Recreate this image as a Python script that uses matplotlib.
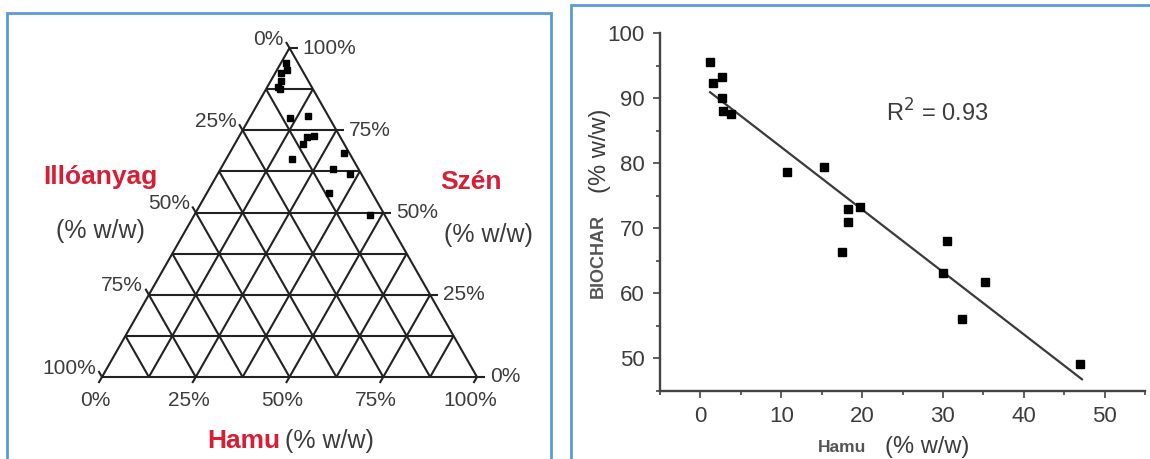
import matplotlib
matplotlib.use("Agg")
import matplotlib.pyplot as plt
from matplotlib.patches import Rectangle
from matplotlib.ticker import MultipleLocator

plt.rcParams['font.family'] = ['Liberation Sans', 'DejaVu Sans']

# ash (Hamu) and carbon (Szén / BIOCHAR) content of the samples, % w/w
hamu = [1.2, 2.7, 1.6, 2.7, 2.8, 3.8, 10.7, 15.3, 18.3, 19.8, 18.2, 17.5,
        30.5, 30.0, 35.2, 32.4, 47.0]
szen = [95.5, 93.2, 92.3, 90.0, 88.0, 87.5, 78.6, 79.4, 72.9, 73.2, 70.9, 66.3,
        68.0, 63.2, 61.8, 56.0, 49.1]

# regression line end points
fit_x = [1.2, 47.2]
fit_y = [90.9, 46.8]
r2_text = "R$^2$ = 0.93"

tern_ticks = [0, 25, 50, 75, 100]
x_ticks = [0, 10, 20, 30, 40, 50]
y_ticks = [50, 60, 70, 80, 90, 100]

RED = '#d81e34'
BLUE = '#5b9bd5'
GRID = '#222222'
TXT = '#3c3c3c'

W, H = 1150, 459
fig = plt.figure(figsize=(W / 100, H / 100), dpi=100)


def fx(x):
    return x / W


def fy(y):
    return 1 - y / H


# blue panel frames (bottom edges fall outside the picture)
fig.add_artist(Rectangle((fx(7), fy(480)), fx(551) - fx(7), fy(13) - fy(480),
                         fill=False, ec=BLUE, lw=2))
fig.add_artist(Rectangle((fx(571), fy(480)), fx(1170) - fx(571), fy(5) - fy(480),
                         fill=False, ec=BLUE, lw=2))

# ---------------- ternary diagram ----------------
tx0, tx1, ty_top, ty_bot = 102, 477, 48, 377
ax1 = fig.add_axes([fx(tx0), fy(ty_bot), (tx1 - tx0) / W, (ty_bot - ty_top) / H])
ax1.set_xlim(0, 1)
ax1.set_ylim(0, 1)
ax1.axis('off')
sx = 1 / (tx1 - tx0)   # one pixel in data units
sy = 1 / (ty_bot - ty_top)

lk = dict(color=GRID, lw=1.5, solid_capstyle='butt', clip_on=False)
for i in range(1, 8):
    f = i / 8
    ax1.plot([f / 2, 1 - f / 2], [f, f], **lk)              # constant carbon
    ax1.plot([f, f + (1 - f) / 2], [0, 1 - f], **lk)        # constant ash
    ax1.plot([1 - f, (1 - f) / 2], [0, 1 - f], **lk)        # constant volatiles
ax1.plot([0, 1, 0.5, 0], [0, 0, 1, 0], **lk)

lab = dict(fontsize=15, color=TXT, textcoords='offset pixels', annotation_clip=False)
for t in tern_ticks:
    c = 1 - t / 100
    # left side: Illóanyag
    px, py = c / 2, c
    ax1.plot([px, px - 3.5 * sx], [py, py + 6 * sy], **lk)
    ax1.annotate(f"{t}%", (px, py), xytext=(-6, 9), ha='right', va='center', **lab)
    # right side: Szén
    c = t / 100
    px, py = 1 - c / 2, c
    ax1.plot([px, px + 8 * sx], [py, py], **lk)
    ax1.annotate(f"{t}%", (px, py), xytext=(13, 0), ha='left', va='center', **lab)
    # bottom: Hamu
    px = t / 100
    ax1.plot([px, px - 3.5 * sx], [0, -6 * sy], **lk)
    ax1.annotate(f"{t}%", (px, 0), xytext=(-7, -23), ha='center', va='center', **lab)

tern_x = [h / 100 + s / 200 for h, s in zip(hamu, szen)]
tern_y = [s / 100 for s in szen]
ax1.plot(tern_x, tern_y, 's', ms=4.5, color='black', clip_on=False)

fig.text(fx(100), fy(177), "Illóanyag", color=RED, fontsize=19, fontweight='bold',
         ha='center', va='center')
fig.text(fx(100), fy(231), "(% w/w)", color=TXT, fontsize=18, ha='center', va='center')
fig.text(fx(471), fy(182), "Szén", color=RED, fontsize=19, fontweight='bold',
         ha='center', va='center')
fig.text(fx(488), fy(235), "(% w/w)", color=TXT, fontsize=18, ha='center', va='center')
fig.text(fx(280), fy(441), "Hamu", color=RED, fontsize=19, fontweight='bold',
         ha='right', va='center')
fig.text(fx(285), fy(441), "(% w/w)", color=TXT, fontsize=18, ha='left', va='center')

# ---------------- scatter with regression ----------------
ax2 = fig.add_axes([fx(660), fy(391), (1145 - 660) / W, (391 - 33) / H])
ax2.set_xlim(-5, 55)
ax2.set_ylim(45, 100)
ax2.set_xticks(x_ticks)
ax2.set_yticks(y_ticks)
ax2.xaxis.set_minor_locator(MultipleLocator(5))
ax2.yaxis.set_minor_locator(MultipleLocator(5))
for s in ('top', 'right'):
    ax2.spines[s].set_visible(False)
for s in ('left', 'bottom'):
    ax2.spines[s].set_color('#444444')
    ax2.spines[s].set_linewidth(1.7)
ax2.tick_params(which='both', direction='out', color='#444444', width=1.2)
ax2.tick_params(which='major', length=5, labelsize=16, labelcolor=TXT, pad=6)
ax2.tick_params(which='minor', length=3)

ax2.plot(fit_x, fit_y, color='#3a3a3a', lw=1.6)
ax2.plot(hamu, szen, 's', ms=6, color='black', clip_on=False)
ax2.text(23.0, 87.7, r2_text, fontsize=17, color=TXT, ha='left', va='center')

fig.text(fx(598), fy(256), "BIOCHAR", rotation=90, fontsize=13, fontweight='bold',
         color='#555555', ha='center', va='center')
fig.text(fx(600), fy(151), "(% w/w)", rotation=90, fontsize=17, color=TXT,
         ha='center', va='center')
fig.text(fx(842), fy(448), "Hamu", fontsize=12.5, fontweight='bold', color='#555555',
         ha='center', va='center')
fig.text(fx(927), fy(447), "(% w/w)", fontsize=17, color=TXT, ha='center', va='center')

fig.savefig('out.png', dpi=100)
